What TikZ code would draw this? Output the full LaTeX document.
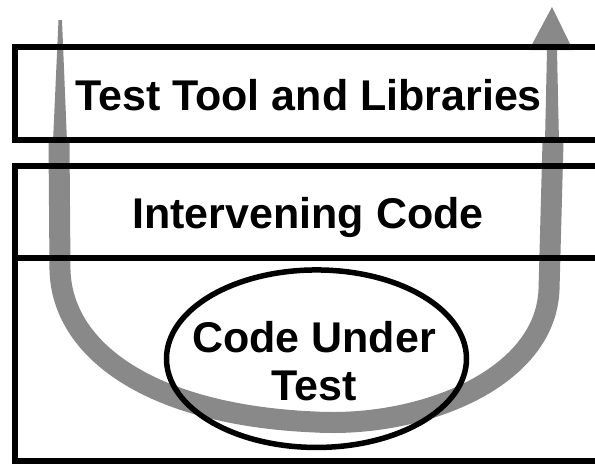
\documentclass[tikz,border=0pt]{standalone}
\usepackage{fontspec}
\setmainfont{Liberation Sans}
\usetikzlibrary{shapes.geometric}
\definecolor{bandgray}{RGB}{137,137,137}

\begin{document}
\begin{tikzpicture}[x=1pt,y=-1pt,line join=miter,
    layer/.style={line width=6pt},
    band/.style={draw=bandgray,line width=21pt},
    lbl/.style={font=\fontsize{43}{48}\selectfont\bfseries,inner sep=0pt}]
  \useasboundingbox (0,0) rectangle (595,464);
  \clip (0,0) rectangle (595,464);

  % Grey U-shaped flow running down from the tools and back up.
  \draw[band] (59,142) -- (60,270)
    .. controls (62,350) and (150,415) .. (315,422)
    .. controls (420,428) and (545,380) .. (549,290) -- (553,142);
  % thin tail on the left, thin shaft with head on the right
  \fill[bandgray] (58.5,20) -- (62,20) -- (67,142) -- (53,142) -- cycle;
  \fill[bandgray] (552,7) -- (573,50) -- (557,50) -- (559,142)
    -- (545,142) -- (547,50) -- (529,50) -- cycle;

  % Stacked layers, open on the right where the page cuts them off.
  \draw[layer] (600,47) -| (14.5,139.5) -- (600,139.5);
  \draw[layer] (600,165.5) -| (14.5,460.5) -- (600,460.5);
  \draw[layer] (14.5,258) -- (600,258);

  \node[lbl,anchor=base] (tools) at (308.5,110) {Test Tool and Libraries};
  \node[lbl,anchor=base] (interv) at (308,228) {Intervening Code};

  \node[ellipse,draw,line width=5.5pt,minimum width=300pt,minimum height=177.5pt,
    inner sep=0pt] (cut) at (316.5,358.7) {};
  \node[lbl,align=center] (cutlbl) at (314,361) {Code Under\\Test};
\end{tikzpicture}
\end{document}
